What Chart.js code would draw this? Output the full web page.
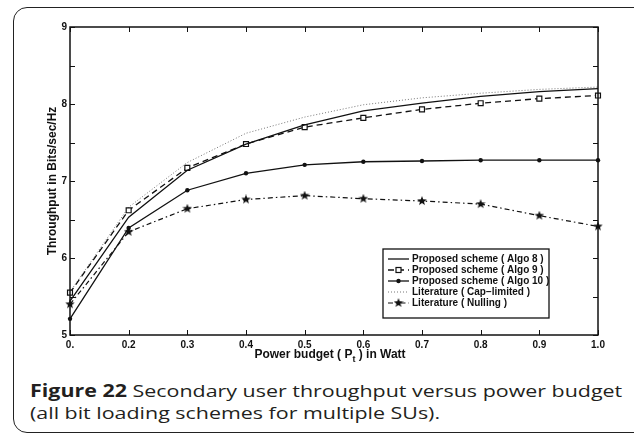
<!DOCTYPE html>
<html>
<head>
<meta charset="utf-8">
<script src="https://cdn.jsdelivr.net/npm/chart.js@4.4.1/dist/chart.umd.min.js"></script>
<style>
  html, body { margin: 0; padding: 0; background: #fff; }
  body { width: 634px; height: 435px; position: relative; overflow: hidden; }
  .card {
    position: absolute; left: 13px; top: 7px; width: 640px; height: 426px;
    border: 1.5px solid #222; border-radius: 14px; box-sizing: border-box;
  }
  .plot { position: absolute; left: 0; top: 0; width: 634px; height: 370px; }
  .caption {
    position: absolute; left: 30px; top: 380px;
    font-family: 'Open Sans', sans-serif; font-size: 17px; line-height: 22px;
    color: #231f20; white-space: nowrap;
    transform: scaleX(1.26); transform-origin: 0 0;
  }
  .caption b { font-weight: 700; }
</style>
</head>
<body>
<div class="card"></div>
<div class="plot"><canvas id="chart" width="634" height="370"></canvas></div>
<div class="caption">
  <b>Figure 22</b> Secondary user throughput versus power budget<br>
  (all bit loading schemes for multiple SUs).
</div>
<script>
  // ── Data ──────────────────────────────────────────────────────────────────
  const powerLabels = ['0.', '0.2', '0.3', '0.4', '0.5', '0.6', '0.7', '0.8', '0.9', '1.0'];

  const algo8      = [5.44, 6.53, 7.14, 7.48, 7.73, 7.91, 8.01, 8.10, 8.16, 8.20];
  const algo9      = [5.55, 6.62, 7.17, 7.48, 7.70, 7.82, 7.93, 8.01, 8.07, 8.11];
  const algo10     = [5.21, 6.39, 6.88, 7.10, 7.21, 7.25, 7.26, 7.27, 7.27, 7.27];
  const capLimited = [5.56, 6.66, 7.24, 7.62, 7.83, 7.99, 8.08, 8.14, 8.19, 8.22];
  const nulling    = [5.40, 6.34, 6.64, 6.76, 6.81, 6.77, 6.74, 6.70, 6.55, 6.41];

  const yMin = 5, yMax = 9, yStep = 0.5;

  const AXIS_FONT = "'Liberation Sans', Arial, sans-serif";

  // filled five-point star used as marker for the Nulling curve
  function makeStar(size) {
    const c = document.createElement('canvas');
    c.width = size; c.height = size;
    const g = c.getContext('2d');
    const cx = size / 2, cy = size / 2, ro = size / 2, ri = ro * 0.42;
    g.beginPath();
    for (let i = 0; i < 10; i++) {
      const r = i % 2 ? ri : ro;
      const a = -Math.PI / 2 + i * Math.PI / 5;
      g.lineTo(cx + r * Math.cos(a), cy + r * Math.sin(a));
    }
    g.closePath();
    g.fillStyle = '#111';
    g.fill();
    return c;
  }
  const starMarker = makeStar(10);

  const datasets = [
    {
      label: 'Proposed scheme ( Algo 8 )',
      data: algo8,
      borderColor: '#111', borderWidth: 1.3,
      pointRadius: 0,
    },
    {
      label: 'Proposed scheme ( Algo 9 )',
      data: algo9,
      borderColor: '#111', borderWidth: 1.3, borderDash: [6, 4],
      pointStyle: 'rect', pointRadius: 3.5, pointBorderWidth: 1.2,
      pointBackgroundColor: '#fff', pointBorderColor: '#111',
    },
    {
      label: 'Proposed scheme ( Algo 10 )',
      data: algo10,
      borderColor: '#111', borderWidth: 1.3,
      pointStyle: 'circle', pointRadius: 2.2, pointBorderWidth: 0,
      pointBackgroundColor: '#111',
    },
    {
      label: 'Literature ( Cap-limited )',
      data: capLimited,
      borderColor: '#777', borderWidth: 1, borderDash: [1, 2],
      pointRadius: 0,
    },
    {
      label: 'Literature ( Nulling )',
      data: nulling,
      borderColor: '#111', borderWidth: 1.2, borderDash: [5, 3, 1.5, 3],
      pointStyle: starMarker, pointRadius: 5,
    },
  ];

  // ── Frame, inner ticks, x title and legend (MATLAB look) ─────────────────
  const matlabFrame = {
    id: 'matlabFrame',
    afterDraw(chart) {
      const { ctx, chartArea: a, scales: { x, y } } = chart;
      ctx.save();
      ctx.strokeStyle = '#111';
      ctx.lineWidth = 1.5;
      ctx.strokeRect(a.left, a.top, a.right - a.left, a.bottom - a.top);

      ctx.lineWidth = 1;
      ctx.beginPath();
      y.ticks.forEach(t => {
        const py = Math.round(y.getPixelForValue(t.value)) + 0.5;
        ctx.moveTo(a.left, py);  ctx.lineTo(a.left + 5, py);
        ctx.moveTo(a.right, py); ctx.lineTo(a.right - 5, py);
      });
      powerLabels.forEach((_, i) => {
        const px = Math.round(x.getPixelForValue(i)) + 0.5;
        ctx.moveTo(px, a.top);    ctx.lineTo(px, a.top + 5);
        ctx.moveTo(px, a.bottom); ctx.lineTo(px, a.bottom - 5);
      });
      ctx.stroke();

      // x axis title with subscript
      ctx.fillStyle = '#111';
      ctx.textBaseline = 'middle';
      const f = 'bold 12px ' + AXIS_FONT, fs = 'bold 9px ' + AXIS_FONT;
      const p1 = 'Power budget ( P', sub = 't', p2 = ' ) in Watt';
      ctx.font = f;  const w1 = ctx.measureText(p1).width, w3 = ctx.measureText(p2).width;
      ctx.font = fs; const w2 = ctx.measureText(sub).width;
      let tx = (a.left + a.right) / 2 - (w1 + w2 + w3) / 2 - 4;
      const ty = a.bottom + 20;
      ctx.textAlign = 'left';
      ctx.font = f;  ctx.fillText(p1, tx, ty); tx += w1;
      ctx.font = fs; ctx.fillText(sub, tx, ty + 5); tx += w2;
      ctx.font = f;  ctx.fillText(p2, tx, ty);

      // legend box
      const lx = 383, ly = 249, lw = 166, rowH = 11;
      const lh = rowH * chart.data.datasets.length + 14;
      ctx.fillStyle = '#fff';
      ctx.fillRect(lx, ly, lw, lh);
      ctx.lineWidth = 1.3;
      ctx.strokeStyle = '#111';
      ctx.strokeRect(lx, ly, lw, lh);
      ctx.font = 'bold 10px ' + AXIS_FONT;
      chart.data.datasets.forEach((ds, i) => {
        const cy = ly + 10 + i * rowH;
        ctx.save();
        ctx.strokeStyle = ds.borderColor;
        ctx.lineWidth = ds.borderWidth;
        ctx.setLineDash(ds.borderDash || []);
        ctx.beginPath();
        ctx.moveTo(lx + 5, cy); ctx.lineTo(lx + 26, cy);
        ctx.stroke();
        ctx.restore();
        if (ds.pointRadius) {
          ctx.save();
          ctx.fillStyle = ds.pointBackgroundColor || '#111';
          ctx.strokeStyle = ds.pointBorderColor || '#111';
          ctx.lineWidth = ds.pointBorderWidth || 1;
          if (ds.pointStyle === 'rect') {
            ctx.fillRect(lx + 13, cy - 2.5, 5, 5);
            ctx.strokeRect(lx + 13, cy - 2.5, 5, 5);
          } else if (ds.pointStyle === 'circle') {
            ctx.beginPath(); ctx.arc(lx + 15.5, cy, ds.pointRadius, 0, Math.PI * 2); ctx.fill();
          } else if (ds.pointStyle instanceof HTMLCanvasElement) {
            ctx.drawImage(ds.pointStyle, lx + 10.5, cy - 5);
          }
          ctx.restore();
        }
        ctx.fillStyle = '#111';
        ctx.textAlign = 'left';
        ctx.fillText(ds.label.replace('-', '\u2212'), lx + 29, cy + 0.5);
      });
      ctx.restore();
    },
  };

  new Chart(document.getElementById('chart'), {
    type: 'line',
    data: { labels: powerLabels, datasets },
    options: {
      responsive: false,
      animation: false,
      layout: { padding: { left: 41, top: 27, right: 36, bottom: 0 } },
      plugins: { legend: { display: false }, tooltip: { enabled: false } },
      elements: { line: { tension: 0, fill: false } },
      scales: {
        x: {
          type: 'category',
          offset: false,
          grid: { display: false, drawTicks: false },
          border: { display: false },
          ticks: {
            color: '#111', autoSkip: false, maxRotation: 0, padding: 4,
            font: { family: AXIS_FONT, size: 10, weight: 'bold' },
          },
          afterFit: s => { s.height = 35; },
        },
        y: {
          min: yMin, max: yMax,
          grid: { display: false, drawTicks: false },
          border: { display: false },
          ticks: {
            stepSize: yStep, autoSkip: false, color: '#111', padding: 3,
            font: { family: AXIS_FONT, size: 10, weight: 'bold' },
            callback: v => Number.isInteger(v) ? String(v) : '',
          },
          title: {
            display: true, text: 'Throughput in Bits/sec/Hz', color: '#111',
            font: { family: AXIS_FONT, size: 12, weight: 'bold' },
            padding: { top: 4, bottom: 0 },
          },
          afterFit: s => { s.width = 29; },
        },
      },
    },
    plugins: [matlabFrame],
  });
</script>
</body>
</html>
